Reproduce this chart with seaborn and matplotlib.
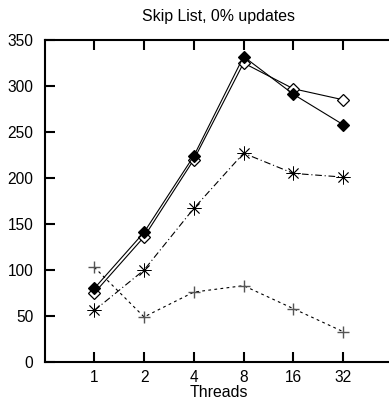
import matplotlib
matplotlib.use("Agg")
import matplotlib.pyplot as plt
import seaborn as sns
import pandas as pd

threads = ["1", "2", "4", "8", "16", "32"]
filled_diamond = [80, 141, 224, 332, 291, 258]
open_diamond = [75, 136, 220, 325, 297, 285]
stars = [56, 100, 167, 227, 205, 201]
plus = [103, 49, 76, 83, 58, 33]
yticks = [0, 50, 100, 150, 200, 250, 300, 350]

sns.set_style("ticks")
plt.rcParams['font.family'] = ['Liberation Sans', 'DejaVu Sans']
plt.rcParams['text.color'] = 'black'
plt.rcParams['axes.labelcolor'] = 'black'
plt.rcParams['xtick.color'] = 'black'
plt.rcParams['ytick.color'] = 'black'

fig = plt.figure(figsize=(3.89, 4.08), dpi=100)
ax = fig.add_axes([0.1145, 0.1127, 0.8855 + 0.01, 0.902 - 0.1127])

pos = list(range(1, len(threads) + 1))
df = pd.DataFrame({"pos": pos, "fd": filled_diamond, "od": open_diamond,
                   "st": stars, "pl": plus})

sns.lineplot(data=df, x="pos", y="pl", ax=ax, color="black",
             linewidth=0.8, linestyle=(0, (2.5, 3)), marker="+", markersize=8,
             markeredgewidth=1.0, markeredgecolor="#555555")
sns.lineplot(data=df, x="pos", y="st", ax=ax, color="black",
             linewidth=0.8, linestyle=(0, (6, 2.5, 1, 2.5)), marker=(8, 2, 0),
             markersize=10, markeredgewidth=0.6, markeredgecolor="black")
sns.lineplot(data=df, x="pos", y="od", ax=ax, color="black",
             linewidth=0.8, marker="D", markersize=6, markerfacecolor="white",
             markeredgecolor="black", markeredgewidth=0.9)
sns.lineplot(data=df, x="pos", y="fd", ax=ax, color="black",
             linewidth=0.8, marker="D", markersize=6, markerfacecolor="black",
             markeredgecolor="black", markeredgewidth=0.9)

ax.set_xlim(0, 7)
ax.set_ylim(0, 350)
ax.set_xticks(pos)
ax.set_xticklabels(threads)
ax.set_yticks(yticks)
ax.set_xlabel("Threads", fontsize=11.4, labelpad=0, color="black")
ax.set_ylabel("")
ax.set_title("Skip List, 0% updates", fontsize=11.4, pad=14, color="black")

for s in ["left", "bottom", "top"]:
    ax.spines[s].set_visible(True)
    ax.spines[s].set_linewidth(1.5)
    ax.spines[s].set_color("black")
ax.spines["right"].set_visible(False)

ax.tick_params(axis="x", direction="in", top=True, bottom=True, length=7,
               width=1.5, labelsize=11.2, pad=6, colors="black")
ax.tick_params(axis="y", direction="in", left=True, right=False, length=7,
               width=1.5, labelsize=11.2, pad=8, colors="black")
if ax.get_legend():
    ax.get_legend().remove()

fig.savefig("out.png", dpi=100)
